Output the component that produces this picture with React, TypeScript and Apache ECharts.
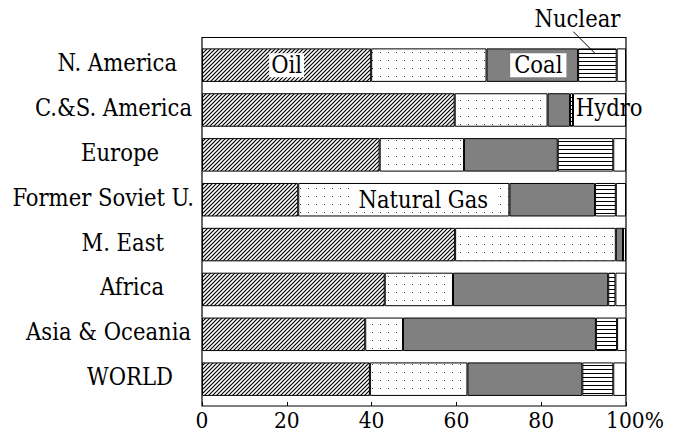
import { useEffect, useRef } from "react";
import * as echarts from "echarts";

const categories = [
  "N. America",
  "C.&S. America",
  "Europe",
  "Former Soviet U.",
  "M. East",
  "Africa",
  "Asia & Oceania",
  "WORLD",
];
const oil = [39.9, 59.6, 41.9, 22.7, 59.7, 43.1, 38.5, 39.6];
const naturalGas = [27.2, 21.9, 19.9, 49.8, 37.9, 16.1, 8.9, 23.0];
const coal = [21.6, 5.3, 22.1, 20.2, 1.7, 36.6, 45.5, 27.1];
const nuclear = [9.1, 0.7, 13.1, 4.9, 0, 1.7, 5.0, 7.3];
const hydro = [2.2, 12.5, 3.0, 2.4, 0.7, 2.5, 2.1, 3.0];
const xTicks = [0, 20, 40, 60, 80, 100];

// right-side gap (px) of each category label from the frame
const labelGap = [25, 10, 43, 8, 38, 38, 11, 29];

const FONT = "DejaVu Serif Condensed";
const FS = 23.5;

function makeTile(w: number, h: number, draw: (c: CanvasRenderingContext2D) => void) {
  const cv = document.createElement("canvas");
  cv.width = w;
  cv.height = h;
  const ctx = cv.getContext("2d")!;
  ctx.fillStyle = "#fff";
  ctx.fillRect(0, 0, w, h);
  draw(ctx);
  return { image: cv.toDataURL(), imageWidth: w, imageHeight: h, repeat: "repeat" } as any;
}

export default function App() {
  const ref = useRef<HTMLDivElement>(null);

  useEffect(() => {
    if (!ref.current) return;
    const chart = echarts.init(ref.current, undefined, { renderer: "svg" });

    const hatch = makeTile(4, 4, (c) => {
      c.strokeStyle = "#000";
      c.lineWidth = 1.2;
      c.beginPath();
      c.moveTo(-1, 5);
      c.lineTo(5, -1);
      c.moveTo(-1, 1);
      c.lineTo(1, -1);
      c.moveTo(3, 5);
      c.lineTo(5, 3);
      c.stroke();
    });
    const dots = makeTile(8, 8, (c) => {
      c.fillStyle = "#333";
      c.fillRect(4, 4, 1, 1);
    });
    const lines = makeTile(4, 4, (c) => {
      c.fillStyle = "#000";
      c.fillRect(0, 1, 4, 1);
    });

    const lab = { fontFamily: FONT, fontSize: FS, color: "#000" };

    const rich: Record<string, any> = {};
    labelGap.forEach((g, i) => {
      rich["r" + i] = { fontFamily: FONT, fontSize: FS, color: "#000", padding: [0, g, 4, 0] };
    });

    const itemBorder = { borderColor: "#000", borderWidth: 1 };
    const mk = (name: string, data: any[], color: any) => ({
      name, type: "bar", stack: "total", xAxisIndex: 0, yAxisIndex: 0, barWidth: 33.5,
      itemStyle: { color, ...itemBorder }, data,
    });

    const oilData: any[] = oil.map((v) => v);
    oilData[0] = { value: oil[0], label: { show: true, position: "inside", formatter: "Oil", ...lab, backgroundColor: "#fff", padding: [1, 2], lineHeight: 22 } };
    const gasData: any[] = naturalGas.map((v) => v);
    gasData[3] = { value: naturalGas[3], label: { show: true, position: "inside", formatter: "Natural Gas", ...lab, backgroundColor: "#fff", padding: [0, 7], lineHeight: 24, offset: [19.5, 0] } };
    const coalData: any[] = coal.map((v) => v);
    coalData[0] = { value: coal[0], label: { show: true, position: "inside", formatter: "Coal", ...lab, backgroundColor: "#fff", padding: [0, 4], lineHeight: 24, offset: [6, 0] } };
    const nucData: any[] = nuclear.map((v) => v);
    nucData[0] = { value: nuclear[0], label: { show: true, position: "top", distance: 17, formatter: "Nuclear", ...lab, offset: [-20, 0] } };
    const hydroData: any[] = hydro.map((v) => v);
    hydroData[1] = { value: hydro[1], label: { show: true, position: "inside", formatter: "Hydro", ...lab, offset: [9.7, -2] } };

    chart.setOption({
      animation: false,
      textStyle: { fontFamily: FONT },
      grid: [
        { left: 202, right: 48, top: 42.7, bottom: 31.4, outerBoundsMode: "none", containLabel: false },
        { left: 202, right: 48, top: 37.5, bottom: 27, outerBoundsMode: "none", containLabel: false, show: true, borderColor: "#000", borderWidth: 1.2, backgroundColor: "transparent" },
      ],
      xAxis: [
        { type: "value", gridIndex: 0, min: 0, max: 100, show: false },
        {
          type: "value", gridIndex: 1, min: xTicks[0], max: xTicks[xTicks.length - 1], interval: xTicks[1] - xTicks[0],
          axisLine: { show: false }, splitLine: { show: false },
          axisTick: { show: true, inside: true, length: 4, lineStyle: { color: "#000", width: 1 } },
          axisLabel: {
            margin: 2, fontFamily: FONT, fontSize: 22.5, color: "#000",
            formatter: (v: number) => (v === 100 ? "{p|" + v + "%}" : String(v)),
            rich: { p: { fontFamily: FONT, fontSize: 22.5, color: "#000", padding: [0, 0, 0, 18] } },
          },
        },
      ],
      yAxis: [
        {
          type: "category", gridIndex: 0, data: categories, inverse: true,
          axisLine: { show: false }, axisTick: { show: false },
          axisLabel: { margin: 0, fontFamily: FONT, fontSize: FS, formatter: (v: string, i: number) => "{r" + i + "|" + v + "}", rich },
        },
        { type: "value", gridIndex: 1, min: 0, max: 1, show: false },
      ],
      series: [
        mk("Oil", oilData, hatch),
        mk("Natural Gas", gasData, dots),
        mk("Coal", coalData, "#808080"),
        mk("Nuclear", nucData, lines),
        mk("Hydro", hydroData, "#fff"),
      ],
    });

    const nx = oil[0] + naturalGas[0] + coal[0] + nuclear[0] / 2;
    const p = chart.convertToPixel({ xAxisIndex: 0, yAxisIndex: 0 }, [nx, categories[0]]) as number[];
    if (p && isFinite(p[0])) {
      chart.setOption({
        graphic: [{ type: "line", shape: { x1: p[0] - 24, y1: p[1] - 33.4, x2: p[0] - 2.4, y2: p[1] - 11.8 }, style: { stroke: "#000", lineWidth: 1 }, z: 100 }],
      });
    }
    return () => chart.dispose();
  }, []);

  return <div ref={ref} style={{ position: "fixed", left: 0, top: 0, width: 674, height: 433, background: "#fff" }} />;
}
